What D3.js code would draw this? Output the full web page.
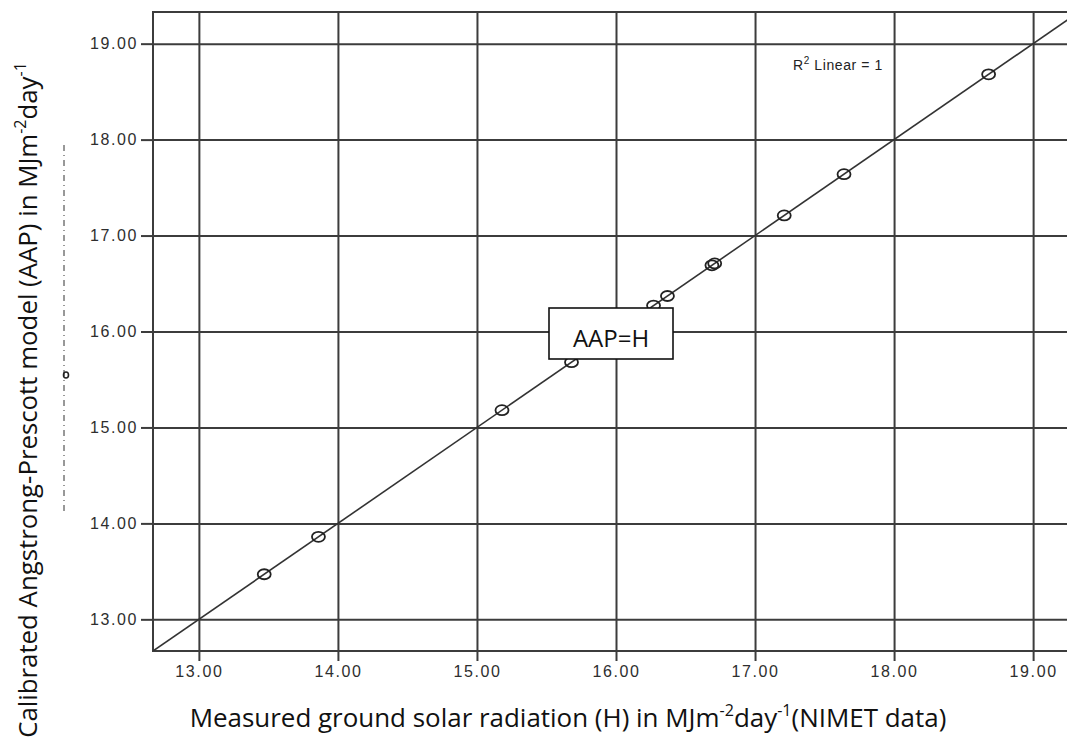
<!DOCTYPE html>
<html><head><meta charset="utf-8">
<script src="https://cdn.jsdelivr.net/npm/d3@7"></script>
<style>body{margin:0;background:#fff}svg{display:block}</style>
</head><body>
<svg id="chart" width="1067" height="742"></svg>
<script>
// Measured ground solar radiation (H) vs calibrated Angstrom-Prescott estimate (AAP)
const measuredH     = [13.47, 13.86, 15.18, 15.68, 16.27, 16.37, 16.69, 16.71, 17.21, 17.64, 18.68];
const calibratedAAP = [13.47, 13.86, 15.18, 15.68, 16.27, 16.37, 16.69, 16.71, 17.21, 17.64, 18.68];
const tickValues = [13, 14, 15, 16, 17, 18, 19];
const axisDomain = [12.67, 19.33];
const fitEnds = [12.67, 19.33];   // fitted line AAP = H
const rSquared = 1;

const svg = d3.select("#chart");
const plot = {left: 153, top: 12, right: 1079, bottom: 651};

const x = d3.scaleLinear().domain(axisDomain).range([plot.left, plot.right]);
const y = d3.scaleLinear().domain(axisDomain).range([plot.bottom, plot.top]);

const gridColor = "#3c3c3c";
const tickFont = "'Liberation Sans', Arial, sans-serif";
const titleFont = "'Open Sans', 'Noto Sans', sans-serif";

svg.append("defs").append("clipPath").attr("id", "plotClip")
  .append("rect").attr("x", plot.left).attr("y", plot.top)
  .attr("width", plot.right - plot.left).attr("height", plot.bottom - plot.top);

// grid lines
const grid = svg.append("g");
grid.append("g").attr("transform", `translate(0,${plot.bottom})`)
  .call(d3.axisBottom(x).tickValues(tickValues).tickSize(-(plot.bottom - plot.top)).tickFormat(""))
  .call(g => g.select(".domain").remove())
  .call(g => g.selectAll("line").attr("stroke", gridColor).attr("stroke-width", 2));
grid.append("g").attr("transform", `translate(${plot.left},0)`)
  .call(d3.axisLeft(y).tickValues(tickValues).tickSize(-(plot.right - plot.left)).tickFormat(""))
  .call(g => g.select(".domain").remove())
  .call(g => g.selectAll("line").attr("stroke", gridColor).attr("stroke-width", 2));

// frame
svg.append("path")
  .attr("d", `M${plot.right},${plot.top}H${plot.left}V${plot.bottom}H${plot.right}`)
  .attr("fill", "none").attr("stroke", gridColor).attr("stroke-width", 2);

// axes with ticks and labels
const xAxis = svg.append("g").attr("transform", `translate(0,${plot.bottom})`)
  .call(d3.axisBottom(x).tickValues(tickValues).tickSize(10).tickPadding(5).tickFormat(d3.format(".2f")));
const yAxis = svg.append("g").attr("transform", `translate(${plot.left},0)`)
  .call(d3.axisLeft(y).tickValues(tickValues).tickSize(12).tickPadding(3).tickFormat(d3.format(".2f")));
[xAxis, yAxis].forEach(a => {
  a.select(".domain").remove();
  a.selectAll("line").attr("stroke", gridColor).attr("stroke-width", 2);
  a.selectAll("text").attr("font-family", tickFont).attr("font-size", 16)
    .attr("letter-spacing", "1.6px").attr("fill", "#2e2e2e");
});

// fitted line and observations
const body = svg.append("g").attr("clip-path", "url(#plotClip)");
body.append("line")
  .attr("x1", x(fitEnds[0])).attr("y1", y(fitEnds[0]))
  .attr("x2", x(fitEnds[1])).attr("y2", y(fitEnds[1]))
  .attr("stroke", "#333").attr("stroke-width", 1.6);
body.selectAll("ellipse.pt").data(measuredH.map((h, i) => [h, calibratedAAP[i]]))
  .join("ellipse").attr("class", "pt")
  .attr("cx", d => x(d[0])).attr("cy", d => y(d[1]))
  .attr("rx", 6.5).attr("ry", 5)
  .attr("fill", "none").attr("stroke", "#222").attr("stroke-width", 1.8);

// R² annotation
const r2 = svg.append("text").attr("x", 883).attr("y", 70).attr("text-anchor", "end")
  .attr("font-family", tickFont).attr("font-size", 14).attr("fill", "#222").attr("letter-spacing", "0.6px");
r2.append("tspan").text("R");
r2.append("tspan").attr("font-size", 10).attr("dy", -6).text("2");
r2.append("tspan").attr("dy", 6).text(` Linear = ${rSquared}`);

// equation box
const box = svg.append("g");
box.append("rect").attr("x", 549).attr("y", 308).attr("width", 124).attr("height", 51)
  .attr("fill", "#fff").attr("stroke", "#111").attr("stroke-width", 1.6);
box.append("text").attr("x", 611).attr("y", 347).attr("text-anchor", "middle")
  .attr("font-family", titleFont).attr("font-size", 24).attr("fill", "#111").text("AAP=H");

// axis titles with superscripts, sized to their span
function buildTitle(sel, parts, size) {
  sel.selectAll("tspan").remove();
  sel.attr("font-size", size);
  let lift = 0;
  parts.forEach(p => {
    const target = p.sup ? -0.42 * size : 0;
    sel.append("tspan")
      .attr("font-size", p.sup ? size * 0.62 : size)
      .attr("dy", target - lift)
      .text(p.t);
    lift = target;
  });
}
function fitTitle(sel, parts, width) {
  buildTitle(sel, parts, 24);
  const len = sel.node().getComputedTextLength();
  buildTitle(sel, parts, 24 * width / len);
}

const xTitleParts = [
  {t: "Measured ground solar radiation (H) in MJm"}, {t: "-2", sup: true},
  {t: "day"}, {t: "-1", sup: true}, {t: "(NIMET data)"}
];
const xTitle = svg.append("text").attr("x", 568).attr("y", 727).attr("text-anchor", "middle")
  .attr("font-family", titleFont).attr("fill", "#111");
fitTitle(xTitle, xTitleParts, 757);

const yTitleParts = [
  {t: "Calibrated Angstrong-Prescott model (AAP) in MJm"}, {t: "-2", sup: true},
  {t: "day"}, {t: "-1", sup: true}
];
const yTitle = svg.append("text").attr("transform", "translate(37,400) rotate(-90)")
  .attr("text-anchor", "middle").attr("font-family", titleFont).attr("fill", "#111");
fitTitle(yTitle, yTitleParts, 676);

// leftover trace of the original axis caption
svg.append("line").attr("x1", 64).attr("y1", 145).attr("x2", 64).attr("y2", 515)
  .attr("stroke", "#333").attr("stroke-width", 1).attr("stroke-dasharray", "6,4,1,4");
svg.append("ellipse").attr("cx", 66).attr("cy", 375).attr("rx", 2.5).attr("ry", 3)
  .attr("fill", "none").attr("stroke", "#222").attr("stroke-width", 1.6);
</script>
</body></html>
